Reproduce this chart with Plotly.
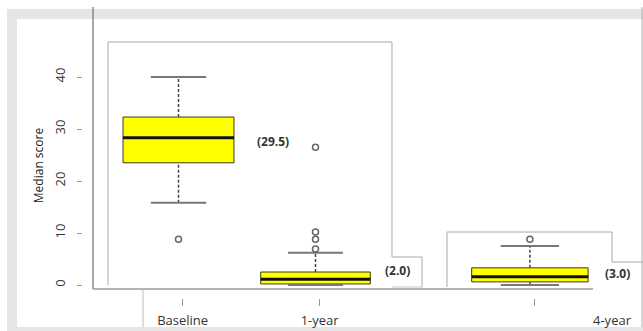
import plotly.graph_objects as go

# ---------------- data ----------------
categories = ["Baseline", "1-year", "4-year"]
q1 = [23.5, 0.2, 0.6]
median = [28.3, 1.1, 1.6]
q3 = [32.3, 2.5, 3.3]
lower_whisker = [15.8, 0.0, 0.0]
upper_whisker = [40.0, 6.2, 7.5]
outliers = [[8.8], [6.9, 8.8, 10.2, 26.5], [8.8]]
median_labels = ["(29.5)", "(2.0)", "(3.0)"]
y_ticks = [0, 10, 20, 30, 40]

# ---------------- layout constants ----------------
W, H = 643, 331
x_pos = [1.0, 2.0, 3.565]          # category positions on the numeric x axis
box_w = [0.81, 0.80, 0.85]
X0, X1 = 1 - 178.5 / 137, 1 - 178.5 / 137 + W / 137
YMAX = 285 / 5.2
YMIN = -(H - 285) / 5.2

def px(v):   # pixel -> paper x
    return v / W

def py(v):   # pixel -> paper y
    return 1 - v / H

def dx(v):   # pixel -> data x
    return X0 + v / W * (X1 - X0)

def dy(v):   # pixel -> data y
    return YMAX - v / H * (YMAX - YMIN)

fig = go.Figure()

for i, cat in enumerate(categories):
    x = x_pos[i]
    hw = box_w[i] / 2
    cw = box_w[i] / 4
    # whiskers (dashed)
    for a, b in ((q3[i], upper_whisker[i]), (lower_whisker[i], q1[i])):
        if b > a:
            fig.add_trace(go.Scatter(x=[x, x], y=[a, b], mode="lines",
                                     line=dict(color="#444", width=1.5, dash="3px,2px"),
                                     hoverinfo="skip", showlegend=False))
    # caps
    for v in (upper_whisker[i], lower_whisker[i]):
        if v < q1[i] or v > q3[i]:
            fig.add_trace(go.Scatter(x=[x - cw, x + cw], y=[v, v], mode="lines",
                                     line=dict(color="#777", width=2),
                                     hoverinfo="skip", showlegend=False))
    # box body
    fig.add_trace(go.Box(x=[x], q1=[q1[i]], median=[median[i]], q3=[q3[i]],
                         lowerfence=[q1[i]], upperfence=[q3[i]],
                         width=box_w[i], fillcolor="#ffff00",
                         line=dict(color="#3a3a1a", width=1),
                         boxpoints=False, whiskerwidth=0,
                         hoverinfo="skip", showlegend=False))
    # thick median
    fig.add_trace(go.Scatter(x=[x - hw, x + hw], y=[median[i], median[i]], mode="lines",
                             line=dict(color="#111", width=3),
                             hoverinfo="skip", showlegend=False))
    # outliers
    fig.add_trace(go.Scatter(x=[x] * len(outliers[i]), y=outliers[i], mode="markers",
                             marker=dict(symbol="circle-open", size=6,
                                         color="#666", line=dict(width=1.5)),
                             hoverinfo="skip", showlegend=False))

# ---------------- frame decorations ----------------
shapes = []
def rect(x0, y0, x1, y1, fill):
    shapes.append(dict(type="rect", xref="paper", yref="paper",
                       x0=px(x0), x1=px(x1), y0=py(y0), y1=py(y1),
                       fillcolor=fill, line=dict(width=0), layer="below"))

def path(pts, color="#a8a8a8", width=1):
    d = "M" + " L".join(f"{px(a):.5f},{py(b):.5f}" for a, b in pts)
    shapes.append(dict(type="path", xref="paper", yref="paper", path=d,
                       line=dict(color=color, width=width), layer="above"))

rect(7, 9, 643, 331, "#e5e5e5")
rect(17, 19, 643, 327, "#ffffff")
path([(93, 7), (93, 289)], "#8a8a8a", 1.5)
path([(93, 289), (593, 289)], "#9a9a9a", 1.5)
path([(143, 289), (143, 327)], "#bdbdbd", 1)
path([(108, 285), (108, 42), (392, 42), (392, 257), (422, 257), (422, 287)])
path([(392, 287), (422, 287)], "#c8c8c8", 1)
path([(447, 287), (447, 232), (612, 232), (612, 262), (643, 262)])
path([(642, 7), (642, 327)], "#b0b0b0", 1)

# ---------------- annotations ----------------
annotations = []
label_px = [(273, 141), (397, 270), (617, 273)]
for (lx, ly), t in zip(label_px, median_labels):
    annotations.append(dict(x=dx(lx), y=dy(ly), xref="x", yref="y", text=f"<b>{t}</b>",
                            showarrow=False, font=dict(family="Open Sans", size=12, color="#333")))
annotations.append(dict(x=x_pos[2] + 0.03, y=dy(320), xref="x", yref="y", xshift=78,
                        text=categories[2], showarrow=False,
                        font=dict(family="Open Sans", size=13, color="#333")))

fig.update_layout(
    width=W, height=H,
    margin=dict(l=0, r=0, t=0, b=0),
    paper_bgcolor="#ffffff", plot_bgcolor="rgba(0,0,0,0)",
    shapes=shapes, annotations=annotations,
    showlegend=False,
    xaxis=dict(range=[X0, X1], domain=[0, 1], anchor="free", position=(H - 298) / H,
               tickvals=[p + 0.03 for p in x_pos], ticktext=categories[:2] + [""],
               ticks="outside", ticklen=7, tickcolor="#999", tickwidth=1,
               showline=False, showgrid=False, zeroline=False,
               tickfont=dict(family="Open Sans", size=13, color="#333"),
               ticklabelstandoff=3),
    yaxis=dict(range=[YMIN, YMAX], domain=[0, 1], anchor="free", position=82 / W,
               tickvals=y_ticks, ticks="outside", ticklen=5, tickcolor="#999", tickwidth=1,
               tickangle=-90, showline=False, showgrid=False, zeroline=False,
               tickfont=dict(family="Open Sans", size=13, color="#333"),
               ticklabelstandoff=7,
               title=dict(text="Median score", standoff=3,
                          font=dict(family="Open Sans", size=12, color="#222"))),
)

fig.write_html("out.html", config={"displayModeBar": False},
               post_script="document.body.style.margin='0';")
